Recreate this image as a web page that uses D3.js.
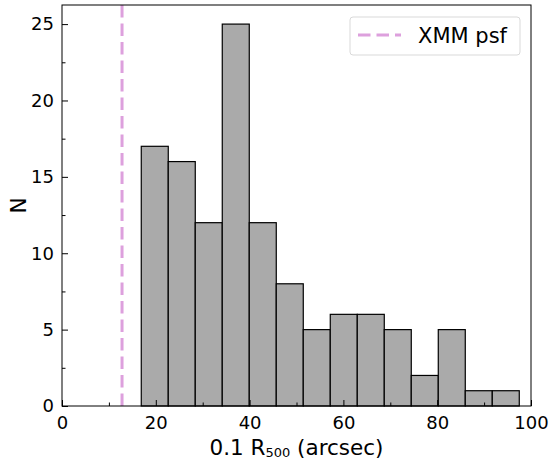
<!DOCTYPE html>
<html><head><meta charset="utf-8">
<script src="https://cdn.jsdelivr.net/npm/d3@7"></script>
<style>body{margin:0;background:#fff}svg{display:block}text{font-family:"DejaVu Sans",sans-serif;fill:#000}</style>
</head><body><svg id="c" width="549" height="461"></svg>
<script>
const binStart = 16.9, binEnd = 97.5;
const counts = [17, 16, 12, 25, 12, 8, 5, 6, 6, 5, 2, 5, 1, 1];
const psfX = 12.8;
const xTicks = [0, 20, 40, 60, 80, 100];
const yTicks = [0, 5, 10, 15, 20, 25];
const xMinor = [10, 30, 50, 70, 90];
const yMinor = [2.5, 7.5, 12.5, 17.5, 22.5];

const L = 62, R = 531, T = 5, B = 406;
const svg = d3.select("#c");
const x = d3.scaleLinear().domain([0, 100]).range([L, R]);
const y = d3.scaleLinear().domain([0, 26.25]).range([B, T]);
const w = (binEnd - binStart) / counts.length;
const bins = counts.map((c, i) => ({x0: binStart + i * w, x1: binStart + (i + 1) * w, n: c}));

svg.append("g").selectAll("rect").data(bins).join("rect")
  .attr("x", d => x(d.x0)).attr("y", d => y(d.n))
  .attr("width", d => x(d.x1) - x(d.x0)).attr("height", d => y(0) - y(d.n))
  .attr("fill", "#aaaaaa").attr("stroke", "#000").attr("stroke-width", 1.2);

svg.append("line").attr("x1", x(psfX)).attr("x2", x(psfX)).attr("y1", y(26.25)).attr("y2", y(0))
  .attr("stroke", "#dda0dd").attr("stroke-width", 3).attr("stroke-dasharray", "12.5,6");

// axes
const xa = svg.append("g").attr("transform", `translate(0,${B})`)
  .call(d3.axisBottom(x).tickValues(xTicks).tickSizeInner(-6).tickSizeOuter(0).tickPadding(10));
const xm = svg.append("g").attr("transform", `translate(0,${B})`)
  .call(d3.axisBottom(x).tickValues(xMinor).tickSizeInner(-3.5).tickSizeOuter(0).tickFormat(""));
const ya = svg.append("g").attr("transform", `translate(${L},0)`)
  .call(d3.axisLeft(y).tickValues(yTicks).tickSizeInner(-6).tickSizeOuter(0).tickPadding(8));
const ym = svg.append("g").attr("transform", `translate(${L},0)`)
  .call(d3.axisLeft(y).tickValues(yMinor).tickSizeInner(-3.5).tickSizeOuter(0).tickFormat(""));
[xa, xm, ya, ym].forEach(g => {
  g.select(".domain").remove();
  g.selectAll("line").attr("stroke", "#000").attr("stroke-width", 1);
  g.selectAll("text").style("font-size", "18px").style("font-family", "DejaVu Sans");
});
xa.selectAll("text").attr("y", 23).attr("dy", 0);
ya.selectAll("text").attr("x", -8);

svg.append("rect").attr("x", L).attr("y", T).attr("width", R - L).attr("height", B - T)
  .attr("fill", "none").attr("stroke", "#000").attr("stroke-width", 1);

// labels
const xl = svg.append("text").attr("x", (L + R) / 2).attr("y", 455).attr("text-anchor", "middle")
  .style("font-size", "21.5px");
xl.append("tspan").text("0.1 R");
xl.append("tspan").text("500").style("font-size", "13px").attr("dy", 2);
xl.append("tspan").text(" (arcsec)").attr("dy", -2);

svg.append("text").attr("transform", `translate(26,${(T + B) / 2}) rotate(-90)`)
  .attr("text-anchor", "middle").style("font-size", "21.5px").text("N");

// legend
const lg = svg.append("g");
lg.append("rect").attr("x", 350).attr("y", 17).attr("width", 170).attr("height", 38).attr("rx", 3)
  .attr("fill", "#fff").attr("stroke", "#d9d9d9").attr("stroke-width", 1);
lg.append("line").attr("x1", 358).attr("x2", 401).attr("y1", 35).attr("y2", 35)
  .attr("stroke", "#dda0dd").attr("stroke-width", 3).attr("stroke-dasharray", "12.5,6");
lg.append("text").attr("x", 418).attr("y", 43).style("font-size", "21px").text("XMM psf");
</script></body></html>
